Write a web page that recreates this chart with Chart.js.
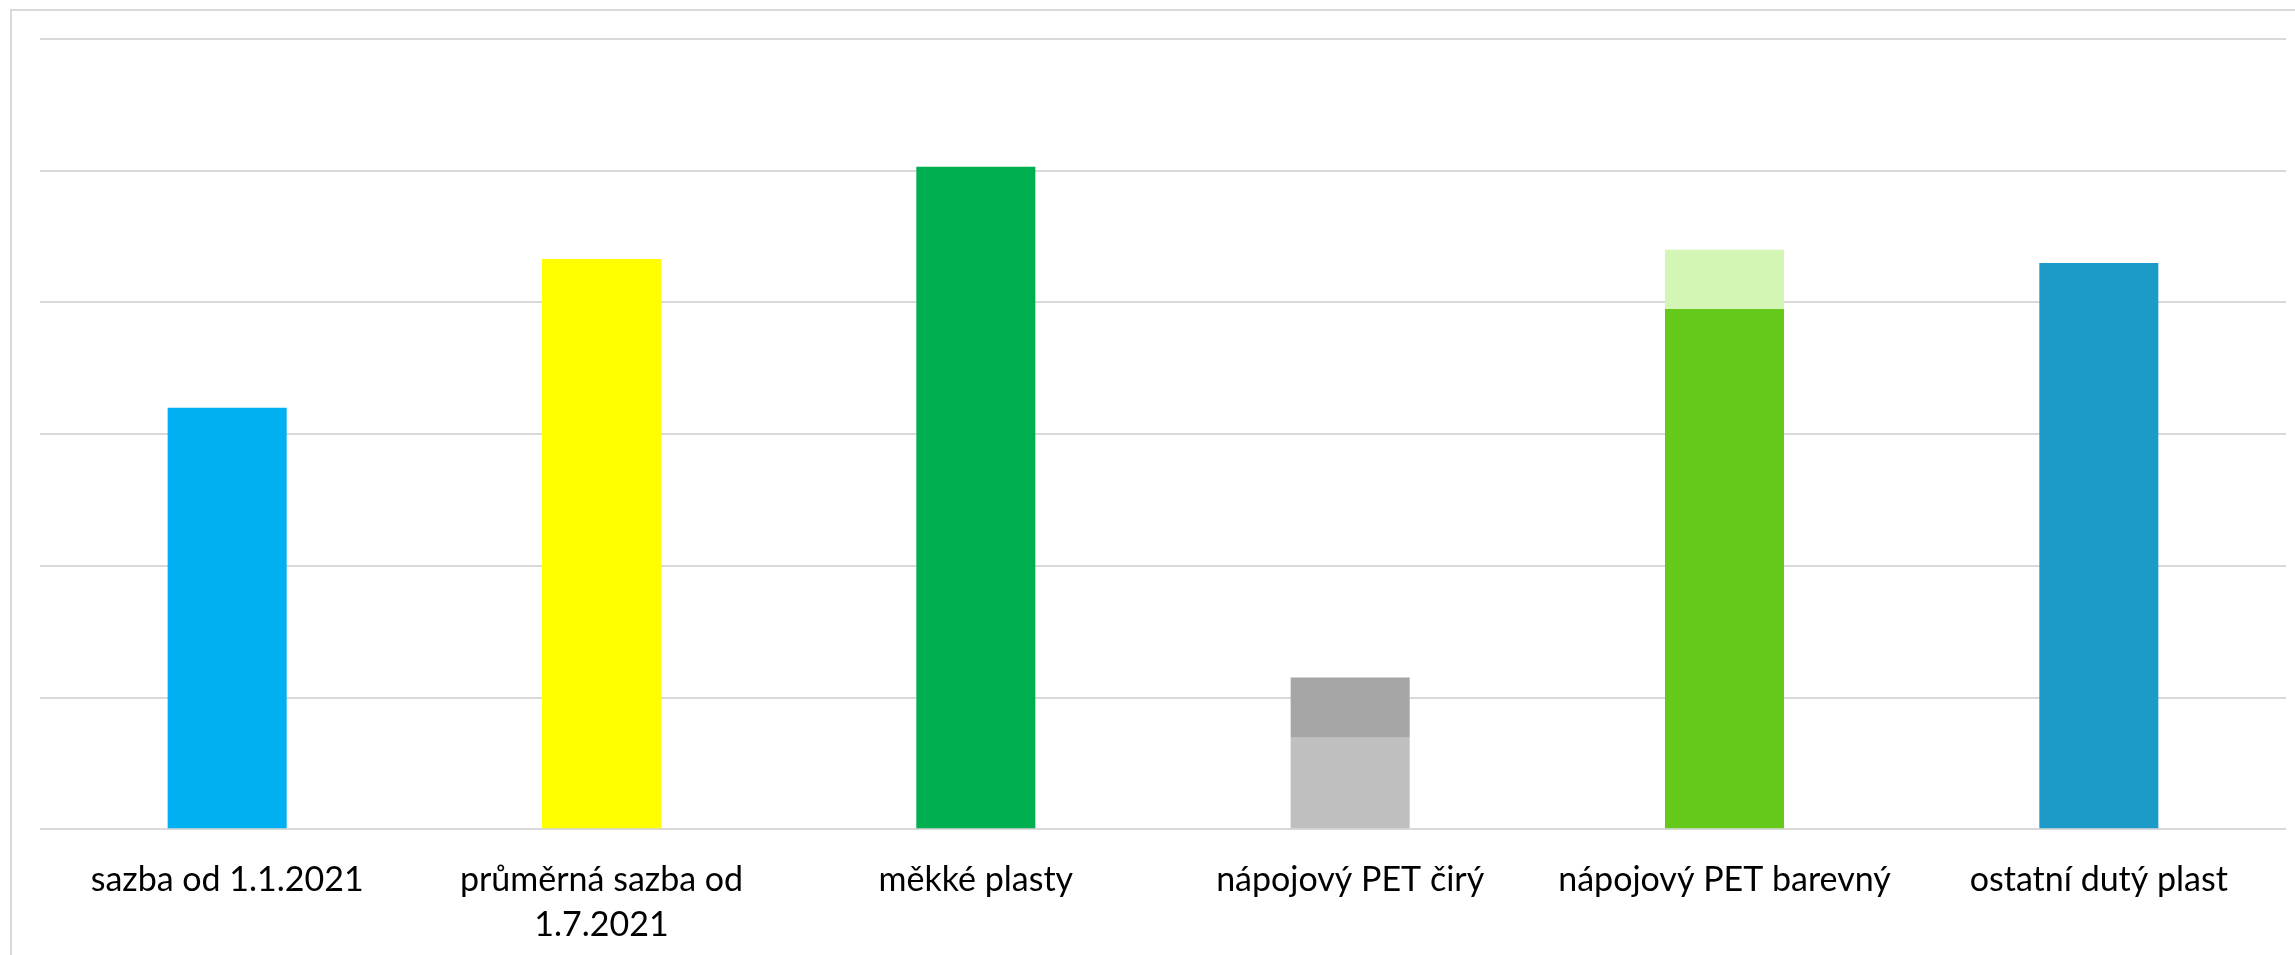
<!DOCTYPE html>
<html>
<head>
<meta charset="utf-8">
<script src="https://cdn.jsdelivr.net/npm/chart.js@4.4.1/dist/chart.umd.min.js"></script>
<style>
  html, body { margin: 0; padding: 0; background: #ffffff; overflow: hidden; }
  #wrap { position: relative; width: 2295px; height: 955px; overflow: hidden; }
  #frame { position: absolute; left: 10px; top: 9px; width: 2400px; height: 1000px;
           border-top: 2px solid #d9d9d9; border-left: 2px solid #d9d9d9; box-sizing: border-box; }
  canvas { position: absolute; left: 0; top: 0; }
</style>
</head>
<body>
<div id="wrap">
  <div id="frame"></div>
  <canvas id="c" width="2295" height="975"></canvas>
</div>
<script>
const categories = [
  "sazba od 1.1.2021",
  ["průměrná sazba od", "1.7.2021"],
  "měkké plasty",
  "nápojový PET čirý",
  "nápojový PET barevný",
  "ostatní dutý plast"
];
const baseValues = [3.20, 4.33, 5.03, 0.695, 3.95, 4.30];
const topValues  = [0, 0, 0, 0.457, 0.45, 0];
const baseColors = ["#00B0F0", "#FFFF00", "#00B050", "#BFBFBF", "#64C91A", "#1C9BC8"];
const topColors  = ["#00B0F0", "#FFFF00", "#00B050", "#A6A6A6", "#D3F6B5", "#1C9BC8"];
const yMin = 0, yMax = 6, yStep = 1;

new Chart(document.getElementById("c"), {
  type: "bar",
  data: {
    labels: categories,
    datasets: [
      { label: "base", data: baseValues, backgroundColor: baseColors, borderWidth: 0,
        categoryPercentage: 1.0, barPercentage: 0.318 },
      { label: "top", data: topValues, backgroundColor: topColors, borderWidth: 0,
        categoryPercentage: 1.0, barPercentage: 0.318 }
    ]
  },
  options: {
    responsive: false,
    animation: false,
    devicePixelRatio: 1,
    layout: { padding: { left: 40, right: 9, top: 39, bottom: 0 } },
    plugins: { legend: { display: false }, tooltip: { enabled: false }, title: { display: false } },
    scales: {
      x: {
        stacked: true,
        grid: { display: false, drawTicks: false },
        border: { display: false },
        ticks: {
          color: "#000000",
          font: { family: "Lato, 'Liberation Sans', sans-serif", size: 34, lineHeight: 1.32 },
          padding: 28,
          maxRotation: 0, minRotation: 0, autoSkip: false
        }
      },
      y: {
        stacked: true,
        min: yMin, max: yMax,
        grid: { color: "#d9d9d9", lineWidth: 2, drawTicks: false },
        border: { display: false },
        ticks: { display: false, stepSize: yStep }
      }
    }
  }
});
</script>
</body>
</html>
